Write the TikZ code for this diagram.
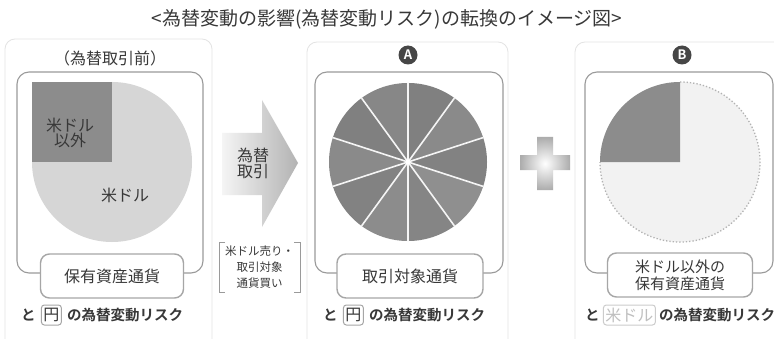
\documentclass[tikz,border=0pt]{standalone}
\usepackage{fontspec}
\setmainfont{Noto Sans CJK JP}[BoldFont={Noto Sans CJK JP Bold}]
\usepackage{tikz}
\usetikzlibrary{positioning}

\definecolor{txtgray}{HTML}{383838}
\definecolor{linegray}{HTML}{9A9A9A}
\definecolor{darkpie}{HTML}{8C8C8C}
\definecolor{lightpie}{HTML}{D6D6D6}

\tikzset{
  panel/.style={draw=gray!22, line width=0.8pt, rounded corners=10pt},
  innerbox/.style={draw=linegray, line width=1.1pt, rounded corners=12pt},
  labelbox/.style={draw=gray!70, line width=1.4pt, rounded corners=9pt, fill=white,
    minimum height=44pt, align=center, font=\fontsize{16}{18}\selectfont, text=txtgray},
  badge/.style={circle, fill=gray!55!black, text=white, inner sep=0pt, minimum size=19pt,
    font=\bfseries\fontsize{13}{13}\selectfont},
  riskline/.style={font=\bfseries\fontsize{14.5}{15}\selectfont, text=txtgray, inner sep=0pt},
  yenbox/.style={draw=gray!70, line width=1pt, rounded corners=3pt, inner sep=2pt,
    minimum height=20pt, font=\fontsize{16}{16}\selectfont, text=txtgray},
  pielabel/.style={font=\fontsize{16}{18}\selectfont, text=txtgray, align=center}
}

\begin{document}
\begin{tikzpicture}[x=1pt, y=1pt]
  \useasboundingbox (0,0) rectangle (774,338);
  \fill[white] (0,0) rectangle (774,338);

  % Titel
  \node[font=\fontsize{19}{20}\selectfont, text=txtgray] (title) at (387,319)
    {<為替変動の影響(為替変動リスク)の転換のイメージ図>};

  % Rahmen
  \begin{scope}
    \clip (0,0) rectangle (774,338);
    \draw[panel] (5,299) rectangle (212,-12);
    \draw[panel] (307,296) rectangle (508,-12);
    \draw[panel] (575,296) rectangle (800,-12);
  \end{scope}
  \draw[innerbox] (17,266) rectangle (203,65);
  \draw[innerbox] (315,266) rectangle (503,65);
  \draw[innerbox] (585,266) rectangle (773,65);

  % Vor dem Devisengeschaeft
  \node[pielabel] (before) at (110,280) {（為替取引前）};
  \fill[lightpie] (112,176) circle (80);
  \fill[darkpie] (32,176) rectangle (112,256);
  \node[pielabel] (other) at (70,205) {米ドル\\[-3pt]以外};
  \node[pielabel] (usd) at (125,143) {米ドル};
  \node[labelbox, minimum width=143pt] (hold) at (112,62) {保有資産通貨};
  \node[riskline, anchor=west] (to1) at (21,23) {と};
  \node[yenbox, right=5pt of to1] (yen1) {円};
  \node[riskline, right=5pt of yen1] (risk1) {の為替変動リスク};

  % Pfeil
  \shade[left color=gray!8, right color=gray!60]
    (222,205) -- (262,205) -- (262,238) -- (298,175) -- (262,111) -- (262,143) -- (222,143) -- cycle;
  \node[pielabel] (trade) at (253,175) {為替\\[-2pt]取引};
  \draw[linegray, line width=0.8pt] (225,96) -- (219,96) -- (219,46) -- (225,46);
  \draw[linegray, line width=0.8pt] (294,96) -- (300,96) -- (300,46) -- (294,46);
  \node[pielabel, font=\fontsize{11.5}{16}\selectfont] (swap) at (259.5,71)
    {米ドル売り・\\取引対象\\通貨買い};

  % A
  \node[badge] (badgeA) at (408,283) {A};
  \foreach \i/\shade in {0/50,1/46,2/49,3/44,4/48,5/45,6/49,7/46,8/50,9/47} {
    \fill[black!\shade] (408,176) -- ++(90-\i*36:79) arc[start angle=90-\i*36, end angle=54-\i*36, radius=79] -- cycle;
  }
  \foreach \i in {0,...,9}
    \draw[white!92!gray, line width=1.6pt] (408,176) -- ++(90-\i*36:79);
  \fill[white] (408,176) circle (2.5);
  \node[labelbox, minimum width=146pt] (target) at (410,62) {取引対象通貨};
  \node[riskline, anchor=west] (to2) at (323,23) {と};
  \node[yenbox, right=5pt of to2] (yen2) {円};
  \node[riskline, right=5pt of yen2] (risk2) {の為替変動リスク};

  % Plus
  \shade[inner color=white, outer color=gray!65]
    (520,168) -- (537,168) -- (537,148) -- (553,148) -- (553,168) -- (570,168) --
    (570,183) -- (553,183) -- (553,201) -- (537,201) -- (537,183) -- (520,183) -- cycle;

  % B
  \node[badge] (badgeB) at (682,283) {B};
  \fill[gray!10] (680,176) circle (80);
  \draw[gray!60, line width=1.3pt, dotted] (680,256) arc[start angle=90, end angle=-180, radius=80];
  \fill[darkpie] (680,176) -- (680,256) arc[start angle=90, end angle=180, radius=80] -- cycle;
  \node[labelbox, minimum width=145pt, font=\fontsize{15}{17}\selectfont] (holdB) at (680,63)
    {米ドル以外の\\保有資産通貨};
  \node[riskline, anchor=west] (to3) at (585,23) {と};
  \node[yenbox, draw=gray!40, text=gray!50, right=3pt of to3] (usdB) {米ドル};
  \node[riskline, right=3pt of usdB] (risk3) {の為替変動リスク};
\end{tikzpicture}
\end{document}
